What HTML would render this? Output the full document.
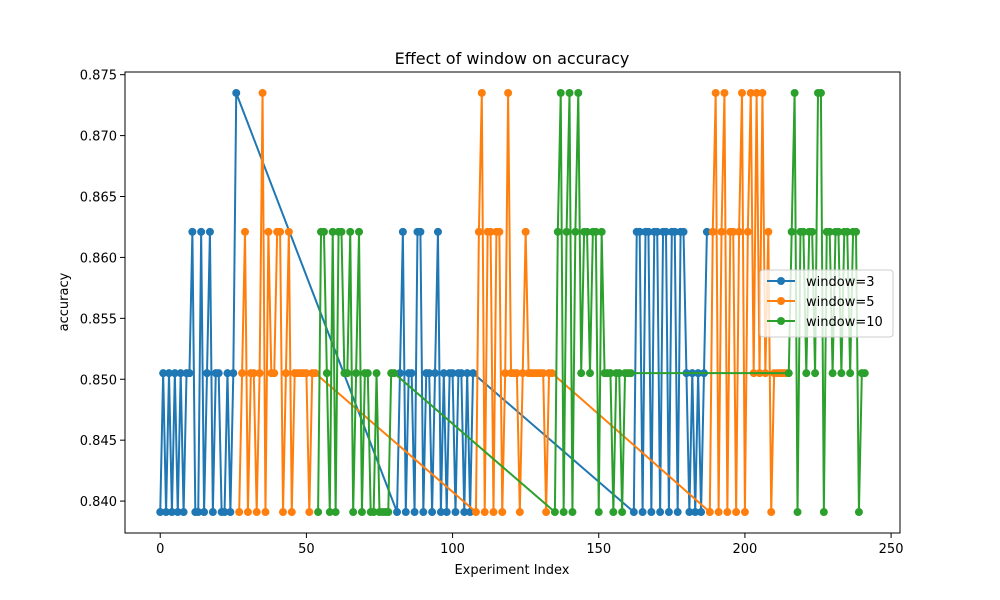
<!DOCTYPE html>
<html><head><meta charset="utf-8"><style>
body{margin:0;background:#fff;}
svg{display:block;font-family:"DejaVu Sans","Liberation Sans",sans-serif;}
</style></head><body>
<svg id="chart" width="1000" height="600"></svg>
<script>
const L=0.8391,M=0.8505,H=0.8621,T=0.8735;
const xTicks=[0,50,100,150,200,250];
const yTicks=[0.840,0.845,0.850,0.855,0.860,0.865,0.870,0.875];
const seriesNames=["window=3","window=5","window=10"];
const seriesColors=["#1f77b4","#ff7f0e","#2ca02c"];
const w3Starts=[0,81,162];
const w3Values=[
[L,M,L,M,L,M,L,M,L,M,M,H,L,L,H,L,M,H,L,M,M,L,L,M,L,M,T],
[L,M,H,L,M,M,L,H,H,L,M,M,L,M,H,L,M,L,M,M,L,M,M,L,M,L,M],
[L,H,H,L,H,H,L,H,H,L,H,H,L,H,H,L,H,H,M,L,M,L,M,L,M,H]];
const w5Starts=[27,108,188];
const w5Values=[
[L,M,H,L,M,M,L,M,T,L,H,M,M,H,H,L,M,H,L,M,M,M,M,M,L,M,M],
[L,H,T,L,H,H,L,H,H,L,M,T,M,M,M,L,M,H,M,M,M,M,M,M,L,M,M],
[L,H,T,L,H,T,L,H,H,L,H,T,L,H,T,M,T,M,T,M,H,L,M,M,M,M,M]];
const w10Starts=[54,135,215];
const w10Values=[
[L,H,H,M,L,H,L,H,H,M,M,H,L,M,H,L,M,M,L,L,M,L,L,L,L,M,M],
[L,H,T,L,H,T,L,H,T,M,H,H,M,H,H,L,H,M,M,M,L,M,M,L,M,M,M],
[M,H,T,L,H,H,M,H,H,M,T,T,L,H,H,M,H,H,M,H,H,M,H,H,L,M,M]];

const svg=document.getElementById('chart');
const NS='http://www.w3.org/2000/svg';
const PL=125,PR=900,PT=72,PB=533;
const X0=-12.05,X1=253.05,Y0=0.83738,Y1=0.87522;
const sx=v=>PL+(v-X0)/(X1-X0)*(PR-PL);
const sy=v=>PB-(v-Y0)/(Y1-Y0)*(PB-PT);
function mk(tag,attrs,parent){const e=document.createElementNS(NS,tag);for(const k in attrs)e.setAttribute(k,attrs[k]);(parent||svg).appendChild(e);return e;}

const title=mk('text',{x:512,y:64,'text-anchor':'middle','font-size':16,fill:'#000'});
title.textContent='Effect of window on accuracy';



xTicks.forEach(t=>{
  const g=mk('g',{});
  
  
  mk('line',{x1:sx(t),x2:sx(t),y1:PB,y2:PB+5,stroke:'#000','stroke-width':1},g);
  const tx=mk('text',{x:sx(t),y:PB+20,'text-anchor':'middle','font-size':13},g);
  tx.textContent=String(t);
});
yTicks.forEach(t=>{
  const g=mk('g',{});
  
  
  mk('line',{x1:PL-5,x2:PL,y1:sy(t),y2:sy(t),stroke:'#000','stroke-width':1},g);
  const tx=mk('text',{x:PL-8,y:sy(t)+5,'text-anchor':'end','font-size':13},g);
  tx.textContent=t.toFixed(3);
});
const xl=mk('text',{x:512,y:574,'text-anchor':'middle','font-size':13});
xl.textContent='Experiment Index';


const yl=mk('text',{x:68,y:302,'text-anchor':'middle','font-size':13,transform:'rotate(-90 68 302)'});
yl.textContent='accuracy';



const all=[[w3Starts,w3Values],[w5Starts,w5Values],[w10Starts,w10Values]];
all.forEach((s,si)=>{
  const pts=[];
  s[0].forEach((st,bi)=>s[1][bi].forEach((v,j)=>pts.push([st+j,v])));
  const g=mk('g',{});
  
  
  mk('polyline',{points:pts.map(p=>sx(p[0])+','+sy(p[1])).join(' '),fill:'none',stroke:seriesColors[si],'stroke-width':2,'stroke-linejoin':'round'},g);
  pts.forEach(p=>{
    const c=mk('circle',{cx:sx(p[0]),cy:sy(p[1]),r:4,fill:seriesColors[si]},g);
    
    
  });
});

const frame=mk('rect',{x:PL,y:PT,width:PR-PL,height:PB-PT,fill:'none',stroke:'#000','stroke-width':1});



const lg=mk('g',{});


mk('rect',{x:760,y:270,width:133,height:67,rx:3,fill:'#fff','fill-opacity':0.8,stroke:'#ccc'},lg);
seriesNames.forEach((n,i)=>{
  const e=mk('g',{},lg);
  
  
  const y=281+i*20;
  mk('line',{x1:767,x2:795,y1:y,y2:y,stroke:seriesColors[i],'stroke-width':2},e);
  mk('circle',{cx:781,cy:y,r:4,fill:seriesColors[i]},e);
  const t=mk('text',{x:806,y:y+5,'font-size':13},e);
  t.textContent=n;
});
</script>
</body></html>
